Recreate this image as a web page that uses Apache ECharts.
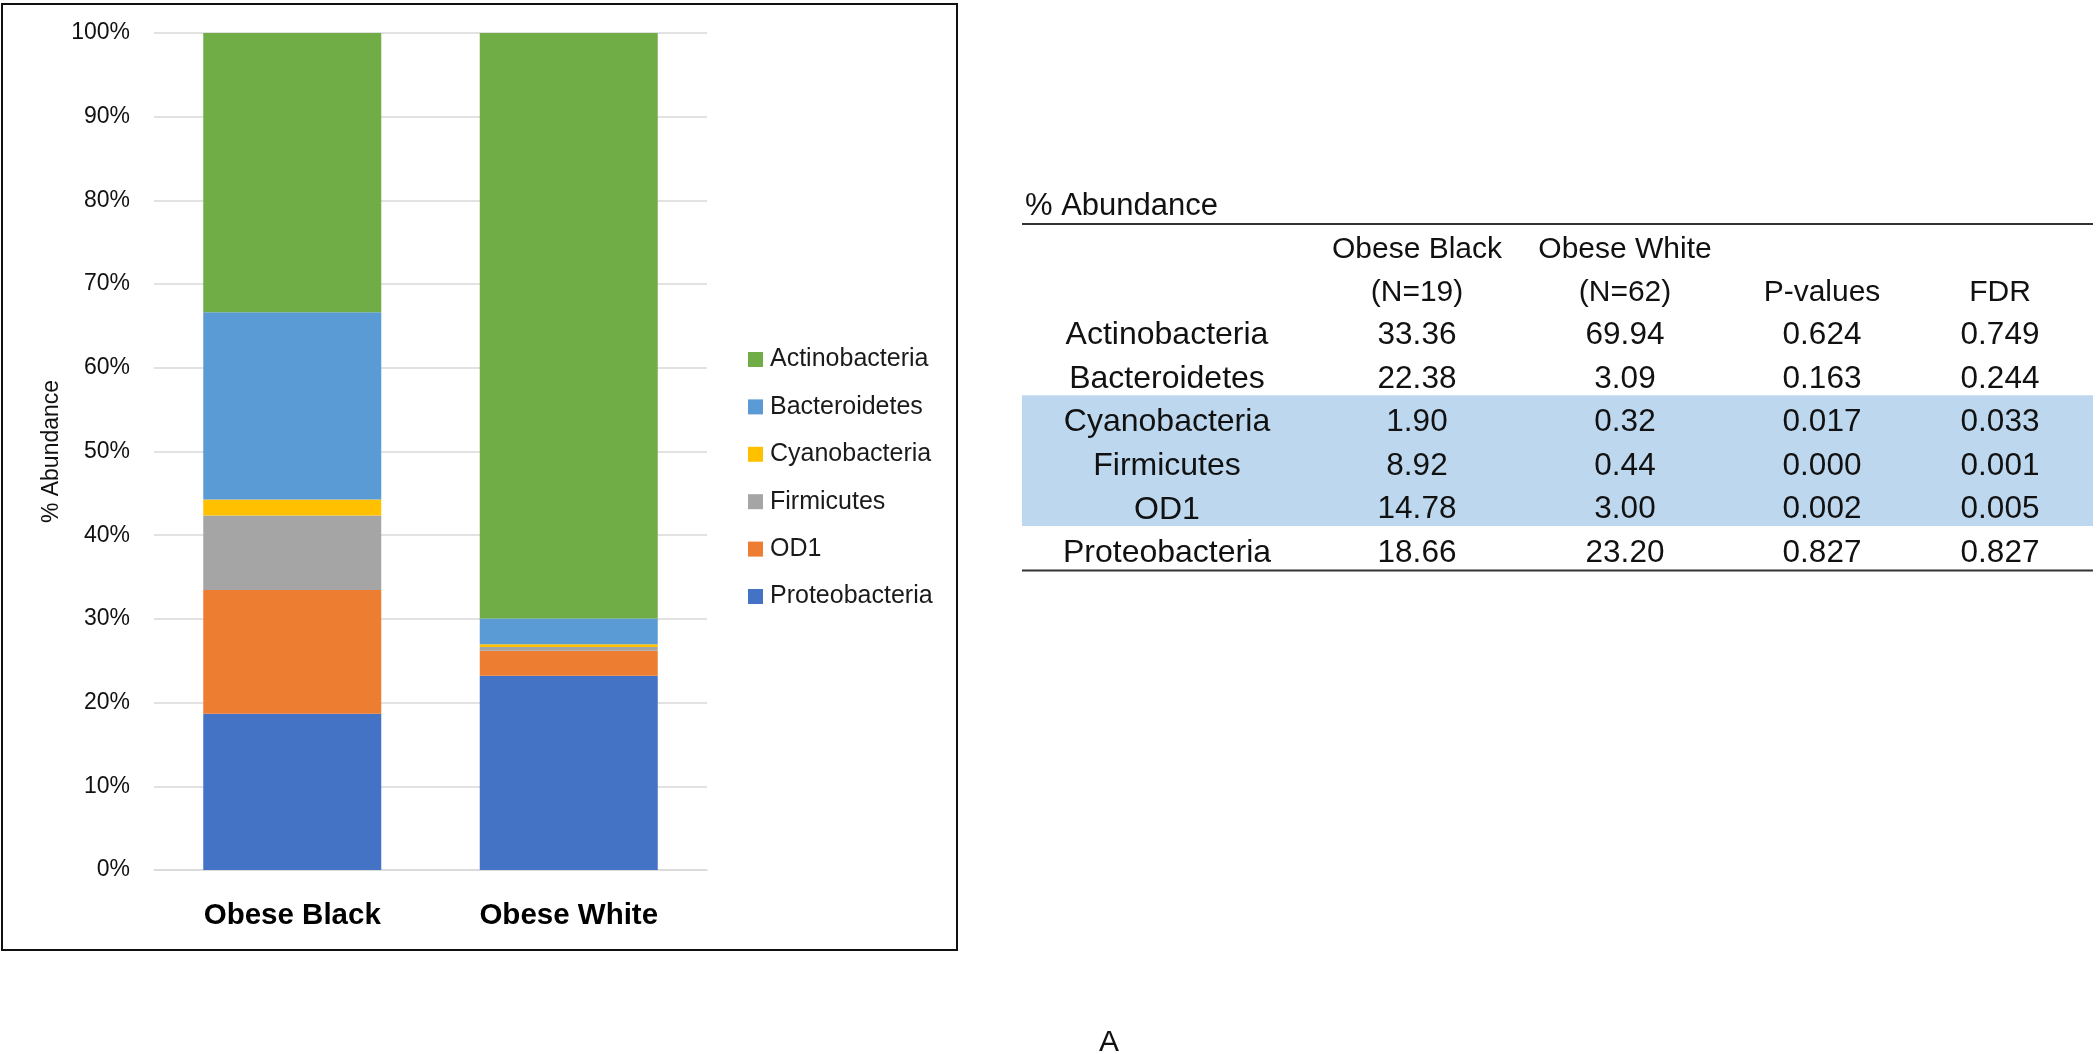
<!DOCTYPE html>
<html>
<head>
<meta charset="utf-8">
<script src="https://cdn.jsdelivr.net/npm/echarts@6/dist/echarts.min.js"></script>
<style>
html,body{margin:0;padding:0;background:#fff;}
#chart{width:2100px;height:1054px;}
</style>
</head>
<body>
<div id="chart"></div>
<script>
// ---- data (table order: top row first) ----
const categories = ['Obese Black', 'Obese White'];
const groupNs = ['(N=19)', '(N=62)'];
const phyla = ['Actinobacteria', 'Bacteroidetes', 'Cyanobacteria', 'Firmicutes', 'OD1', 'Proteobacteria'];
const obeseBlack = [33.36, 22.38, 1.90, 8.92, 14.78, 18.66];
const obeseWhite = [69.94, 3.09, 0.32, 0.44, 3.00, 23.20];
const pValues = ['0.624', '0.163', '0.017', '0.000', '0.002', '0.827'];
const fdrValues = ['0.749', '0.244', '0.033', '0.001', '0.005', '0.827'];
const yTickMax = 100;
const yTickStep = 10;
const tableTitle = '% Abundance';
const statHeaders = ['P-values', 'FDR'];
const panelLabel = 'A';

// ---- styles ----
const colors = {
  Actinobacteria: '#70AD47',
  Bacteroidetes: '#5B9BD5',
  Cyanobacteria: '#FFC000',
  Firmicutes: '#A5A5A5',
  OD1: '#ED7D31',
  Proteobacteria: '#4472C4'
};
const highlighted = [2, 3, 4];
const FONT = "'Liberation Sans', Arial, sans-serif";

// stacked series bottom -> top (reverse table order)
const series = [];
for (let i = phyla.length - 1; i >= 0; i--) {
  series.push({
    name: phyla[i],
    type: 'bar',
    stack: 'total',
    barWidth: 178,
    itemStyle: { color: colors[phyla[i]] },
    data: [obeseBlack[i], obeseWhite[i]]
  });
}

// ---- table as graphic elements ----
const graphic = [];
// chart frame
graphic.push({ type: 'rect', shape: { x: 2, y: 4, width: 955, height: 946 },
  style: { fill: 'none', stroke: '#111', lineWidth: 2 }, z: 10 });

const tLeft = 1022, tRight = 2093;
const rowH = 43.6;
const firstRowTop = 309;
const textShift = 4.5;
const colX = [1167, 1417, 1625, 1822, 2000];
const hdrFont = '30px ' + FONT;
const numFont = '31.5px ' + FONT;
const lblFont = '32px ' + FONT;

// highlighted band
const hStart = Math.min.apply(null, highlighted), hEnd = Math.max.apply(null, highlighted);
graphic.push({ type: 'rect', shape: { x: tLeft, y: firstRowTop + hStart * rowH - 1, width: tRight - tLeft, height: (hEnd - hStart + 1) * rowH },
  style: { fill: '#BDD7EE' }, z: 1 });
// title
graphic.push({ type: 'text', style: { text: tableTitle, x: 1025, y: 206, font: '31px ' + FONT, fill: '#111', align: 'left', verticalAlign: 'middle' }, z: 5 });
// rules
graphic.push({ type: 'line', shape: { x1: tLeft, y1: 224, x2: tRight, y2: 224 }, style: { stroke: '#333', lineWidth: 2 }, z: 5 });
const bottomY = firstRowTop + phyla.length * rowH;
graphic.push({ type: 'line', shape: { x1: tLeft, y1: bottomY, x2: tRight, y2: bottomY }, style: { stroke: '#333', lineWidth: 2 }, z: 5 });
// headers
categories.forEach(function (c, k) {
  graphic.push({ type: 'text', style: { text: c, x: colX[k + 1], y: 249.5, font: hdrFont, fill: '#111', align: 'center', verticalAlign: 'middle' }, z: 5 });
  graphic.push({ type: 'text', style: { text: groupNs[k], x: colX[k + 1], y: 292.5, font: hdrFont, fill: '#111', align: 'center', verticalAlign: 'middle' }, z: 5 });
});
statHeaders.forEach(function (h, k) {
  graphic.push({ type: 'text', style: { text: h, x: colX[k + 3], y: 292.5, font: hdrFont, fill: '#111', align: 'center', verticalAlign: 'middle' }, z: 5 });
});
// body
phyla.forEach(function (p, i) {
  const cy = firstRowTop + (i + 0.5) * rowH + textShift;
  const cells = [p, obeseBlack[i].toFixed(2), obeseWhite[i].toFixed(2), pValues[i], fdrValues[i]];
  cells.forEach(function (t, k) {
    graphic.push({ type: 'text', style: { text: t, x: colX[k], y: cy, font: (k === 0 ? lblFont : numFont), fill: '#111', align: 'center', verticalAlign: 'middle' }, z: 5 });
  });
});
// panel label
graphic.push({ type: 'text', style: { text: panelLabel, x: 1109, y: 1043, font: '30px ' + FONT, fill: '#111', align: 'center', verticalAlign: 'middle' }, z: 5 });

const chart = echarts.init(document.getElementById('chart'), null, { renderer: 'canvas' });
chart.setOption({
  animation: false,
  backgroundColor: '#fff',
  grid: { left: 154, right: 2100 - 707, top: 33, bottom: 1054 - 870, containLabel: false },
  legend: {
    orient: 'vertical',
    left: 748,
    top: 347,
    padding: 0,
    data: phyla.slice(),
    icon: 'rect',
    itemWidth: 15,
    itemHeight: 15,
    itemGap: 22.4,
    textStyle: { fontFamily: FONT, fontSize: 25, color: '#1a1a1a', lineHeight: 24, padding: [0, 0, 0, 2] },
    selectedMode: false
  },
  xAxis: {
    type: 'category',
    data: categories,
    axisLine: { show: true, lineStyle: { color: '#d9d9d9', width: 1.5 } },
    axisTick: { show: false },
    axisLabel: { margin: 31, fontFamily: FONT, fontSize: 29.5, fontWeight: 'bold', color: '#000' }
  },
  yAxis: {
    type: 'value',
    min: 0,
    max: yTickMax,
    interval: yTickStep,
    name: '% Abundance',
    nameLocation: 'middle',
    nameRotate: 90,
    nameGap: 91,
    nameTextStyle: { fontFamily: FONT, fontSize: 23, color: '#111' },
    axisLine: { show: false },
    axisTick: { show: false },
    axisLabel: { margin: 24, fontFamily: FONT, fontSize: 23, color: '#111', formatter: '{value}%' },
    splitLine: { show: true, lineStyle: { color: '#d9d9d9', width: 1.5 } }
  },
  series: series,
  graphic: graphic
});
</script>
</body>
</html>
